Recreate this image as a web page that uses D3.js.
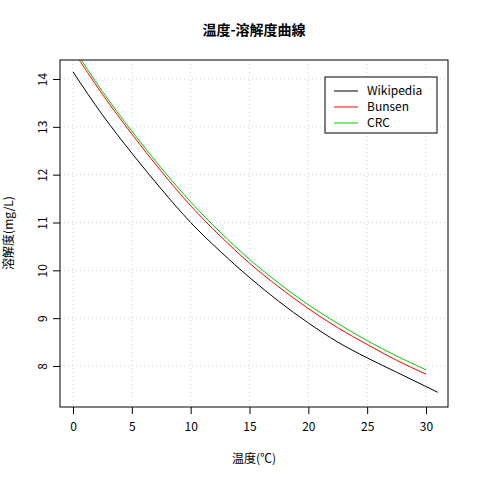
<!DOCTYPE html><html><head><meta charset="utf-8"><script src="https://cdn.jsdelivr.net/npm/d3@7"></script>
<style>body{margin:0;background:#fff}text{font-family:"Noto Sans CJK JP","Noto Sans",sans-serif}</style></head><body>
<script>
const temps=[0,2.5,5,7.5,10,12.5,15,17.5,20,22.5,25,27.5,30,31];
const wiki=[14.15,13.25,12.45,11.7,11.0,10.4,9.85,9.35,8.9,8.5,8.17,7.87,7.57,7.45];
const bunsenT=[0,2.5,5,7.5,10,12.5,15,17.5,20,22.5,25,27.5,30];
const bunsen=[14.6,13.68,12.85,12.07,11.35,10.72,10.15,9.65,9.2,8.8,8.45,8.12,7.83];
const crc=[14.67,13.74,12.91,12.14,11.43,10.8,10.23,9.73,9.28,8.89,8.53,8.21,7.92];
const xTicks=[0,5,10,15,20,25,30], yTicks=[8,9,10,11,12,13,14];
const W=480,H=480,L=60,R=448,T=60,B=407;
const svg=d3.select("body").append("svg").attr("width",W).attr("height",H);
const x=d3.scaleLinear().domain([0,30]).range([73,426]);
const y=d3.scaleLinear().domain([8,14]).range([366,79]);
svg.append("defs").append("clipPath").attr("id","c").append("rect").attr("x",L).attr("y",T).attr("width",R-L).attr("height",B-T);
const g=svg.append("g");
xTicks.forEach(t=>g.append("line").attr("x1",x(t)).attr("x2",x(t)).attr("y1",T).attr("y2",B).attr("stroke","#d3d3d3").attr("stroke-dasharray","1,3"));
yTicks.forEach(t=>g.append("line").attr("y1",y(t)).attr("y2",y(t)).attr("x1",L).attr("x2",R).attr("stroke","#d3d3d3").attr("stroke-dasharray","1,3"));
const line=(xs)=>d3.line().x((d,i)=>x(xs[i])).y(d=>y(d)).curve(d3.curveMonotoneX);
const cg=svg.append("g").attr("clip-path","url(#c)");
cg.append("path").attr("d",line(temps)(wiki)).attr("fill","none").attr("stroke","#000");
cg.append("path").attr("d",line(bunsenT)(bunsen)).attr("fill","none").attr("stroke","#f00");
cg.append("path").attr("d",line(bunsenT)(crc)).attr("fill","none").attr("stroke","#0c0");
svg.append("rect").attr("x",L).attr("y",T).attr("width",R-L).attr("height",B-T).attr("fill","none").attr("stroke","#000");
const xa=svg.append("g").attr("transform",`translate(0,${B})`).call(d3.axisBottom(x).tickValues(xTicks).tickFormat(d3.format("d")).tickSize(7).tickPadding(8));
const ya=svg.append("g").attr("transform",`translate(${L},0)`).call(d3.axisLeft(y).tickValues(yTicks).tickFormat(d3.format("d")).tickSize(7).tickPadding(8));
[xa,ya].forEach(a=>{a.select(".domain").remove();a.selectAll("text").attr("font-size",12).attr("fill","#000");});
ya.selectAll(".tick text").attr("text-anchor","middle").attr("x",0).attr("transform","translate(-17,0) rotate(-90)").attr("dy","0.35em");
svg.append("text").attr("x",254).attr("y",35).attr("text-anchor","middle").attr("font-weight","bold").attr("font-size",14).text("温度-溶解度曲線");
svg.append("text").attr("x",254).attr("y",463).attr("text-anchor","middle").attr("font-size",12).text("温度(℃)");
svg.append("text").attr("transform","translate(13,233) rotate(-90)").attr("text-anchor","middle").attr("font-size",12).text("溶解度(mg/L)");
const lg=svg.append("g");
lg.append("rect").attr("x",325).attr("y",77).attr("width",112).attr("height",56).attr("fill","#fff").attr("stroke","#000");
[["Wikipedia","#000"],["Bunsen","#f00"],["CRC","#0c0"]].forEach((d,i)=>{
 const yy=91+i*16;
 lg.append("line").attr("x1",334).attr("x2",358).attr("y1",yy).attr("y2",yy).attr("stroke",d[1]);
 lg.append("text").attr("x",367).attr("y",yy+4).attr("font-size",12).text(d[0]);
});
</script></body></html>
